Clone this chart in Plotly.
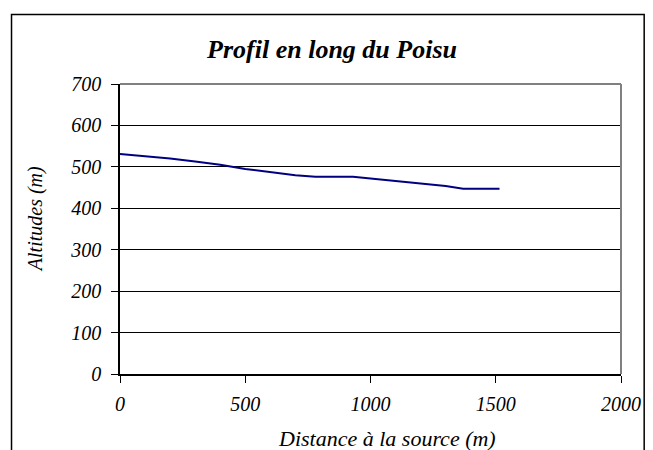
import plotly.graph_objects as go

# Longitudinal profile of the Poisu: distance from source (m) vs altitude (m)
distance = [0, 100, 200, 300, 400, 500, 600, 700, 780, 930, 1000, 1100, 1200, 1300, 1370, 1515]
altitude = [531, 526, 520, 513, 505, 495, 487, 480, 476, 476, 472, 466, 460, 454, 447, 447]

x_ticks = [0, 500, 1000, 1500, 2000]
y_ticks = [0, 100, 200, 300, 400, 500, 600, 700]

title_text = "Profil en long du Poisu"
x_title = "Distance à la source (m)"
y_title = "Altitudes (m)"

W, H = 653, 450
ml, mr, mt, mb = 120, 25, 84, 76
pw, ph = W - ml - mr, H - mt - mb


def px_x(p):
    return (p - ml) / pw


def px_y(p):
    return (H - mb - p) / ph


serif = "'Times New Roman', 'Liberation Serif', serif"

fig = go.Figure(
    go.Scatter(
        x=distance, y=altitude, mode="lines",
        line=dict(color="#000080", width=2),
        hoverinfo="skip",
    )
)

fig.update_layout(
    width=W, height=H,
    margin=dict(l=ml, r=mr, t=mt, b=mb),
    paper_bgcolor="white", plot_bgcolor="white",
    showlegend=False,
    title=dict(
        text="<b><i>" + title_text + "</i></b>",
        x=px_x(335), xref="paper", xanchor="center",
        y=1 - 49 / H, yanchor="middle",
        font=dict(family=serif, size=26, color="black"),
    ),
    xaxis=dict(
        range=[0, 2000], tickvals=x_ticks, ticktext=["<i>%d</i>" % v for v in x_ticks],
        showgrid=False, zeroline=False,
        showline=True, linecolor="black", linewidth=1.5,
        ticks="outside", ticklen=7, tickcolor="black", tickwidth=1,
        ticklabelstandoff=4,
        tickfont=dict(family=serif, size=20, color="black"),
    ),
    yaxis=dict(
        range=[0, 700], tickvals=y_ticks, ticktext=["<i>%d</i>" % v for v in y_ticks],
        showgrid=True, gridcolor="black", gridwidth=1,
        zeroline=False,
        showline=True, linecolor="black", linewidth=1.5,
        ticks="outside", ticklen=7, tickcolor="black", tickwidth=1,
        ticklabelstandoff=6,
        tickfont=dict(family=serif, size=20, color="black"),
    ),
    annotations=[
        dict(text="<i>" + x_title + "</i>", xref="paper", yref="paper",
             x=px_x(391), y=px_y(438), xanchor="center", yanchor="middle",
             showarrow=False, font=dict(family=serif, size=22, color="black")),
        dict(text="<i>" + y_title + "</i>", xref="paper", yref="paper",
             x=px_x(34), y=px_y(219), xanchor="center", yanchor="middle",
             textangle=-90, showarrow=False,
             font=dict(family=serif, size=20, color="black")),
    ],
    shapes=[
        # outer chart frame
        dict(type="rect", xref="paper", yref="paper",
             x0=px_x(10), x1=px_x(651.5), y0=px_y(470), y1=px_y(14.5),
             line=dict(color="black", width=1.5), layer="below"),
        # gray top and right edges of the plot area
        dict(type="line", xref="paper", yref="paper", x0=0, x1=1, y0=1, y1=1,
             line=dict(color="#808080", width=2), layer="above"),
        dict(type="line", xref="paper", yref="paper", x0=1, x1=1, y0=0, y1=1,
             line=dict(color="#808080", width=2), layer="above"),
    ],
)

fig.write_html("out.html")
